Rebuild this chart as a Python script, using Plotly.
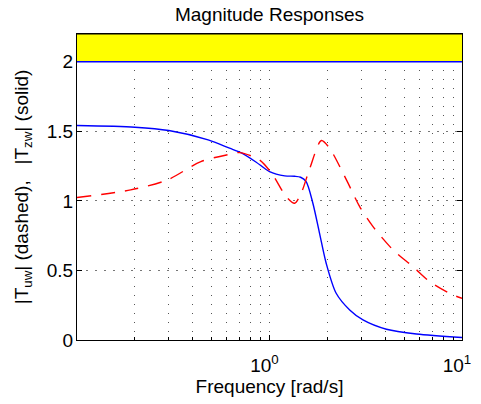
import plotly.graph_objects as go

# Data
freq_zw = [0.1, 0.2, 0.3, 0.48, 0.62, 0.71, 0.85, 1.0, 1.2, 1.35, 1.45, 1.55, 1.68, 1.82, 1.97, 2.22, 2.61, 3.06, 4.05, 5.8, 10.0]
mag_zw = [1.542, 1.53, 1.506, 1.439, 1.379, 1.347, 1.28, 1.211, 1.18, 1.177, 1.17, 1.139, 0.983, 0.767, 0.552, 0.336, 0.216, 0.144, 0.077, 0.043, 0.018]

freq_uw = [0.1, 0.19, 0.295, 0.44, 0.62, 0.70, 0.887, 1.04, 1.22, 1.35, 1.46, 1.62, 1.86, 2.05, 2.51, 2.94, 3.45, 4.39, 5.57, 6.81, 8.83, 10.0]
mag_uw = [1.024, 1.079, 1.151, 1.283, 1.335, 1.347, 1.295, 1.187, 1.031, 0.983, 1.055, 1.235, 1.434, 1.379, 1.151, 0.959, 0.815, 0.647, 0.527, 0.419, 0.328, 0.30]

x_tickvals = [1, 10]
x_ticktext = ["10<sup>0</sup>", "10<sup>1</sup>"]
x_minor = [0.2, 0.3, 0.4, 0.5, 0.6, 0.7, 0.8, 0.9, 2, 3, 4, 5, 6, 7, 8, 9]
y_tickvals = [0, 0.5, 1, 1.5, 2]
y_ticktext = ["0", "0.5", "1", "1.5", "2"]
band_low, band_high = 2.0, 2.2

FONT = "Liberation Sans, Arial, sans-serif"

fig = go.Figure()
fig.add_trace(go.Scatter(x=freq_zw, y=mag_zw, mode="lines",
                         line=dict(color="#0000ff", width=1.4, shape="spline", smoothing=0.8),
                         showlegend=False, hoverinfo="skip"))
fig.add_trace(go.Scatter(x=freq_uw, y=mag_uw, mode="lines",
                         line=dict(color="#ff0000", width=1.4, shape="spline", smoothing=0.8, dash="14px,10px"),
                         showlegend=False, hoverinfo="skip"))

fig.add_shape(type="rect", xref="x domain", yref="y", x0=0, x1=1, y0=band_low, y1=band_high,
              fillcolor="#ffff00", line=dict(width=0), layer="above")
fig.add_shape(type="line", xref="x domain", yref="y", x0=0, x1=1, y0=band_low, y1=band_low,
              line=dict(color="#0000ff", width=1.5), layer="above")
fig.add_shape(type="line", xref="x domain", yref="y domain", x0=0, x1=1, y0=1, y1=1,
              line=dict(color="black", width=1.2), layer="above")

GRIDC = "#555555"
GDASH = "1px,8px"

fig.update_xaxes(type="log", range=[-1, 1], tickvals=x_tickvals, ticktext=x_ticktext,
                 ticks="inside", ticklen=5, tickcolor="black", mirror="allticks",
                 showline=True, linecolor="black", linewidth=1.2, zeroline=False,
                 showgrid=True, gridcolor=GRIDC, griddash=GDASH, gridwidth=1,
                 minor=dict(tickvals=x_minor, ticks="inside", ticklen=3, tickcolor="black",
                            showgrid=True, gridcolor=GRIDC, griddash=GDASH, gridwidth=1),
                 title=dict(text="Frequency [rad/s]", font=dict(size=19, family=FONT, color="black"), standoff=2),
                 tickfont=dict(size=19, family=FONT, color="black"),
                 ticklabelshift=-5, ticklabelstandoff=8, automargin=False)
fig.update_yaxes(range=[0, 2.2], tickvals=y_tickvals, ticktext=y_ticktext,
                 ticks="inside", ticklen=5, tickcolor="black", mirror="allticks",
                 showline=True, linecolor="black", linewidth=1.2, zeroline=False,
                 showgrid=True, gridcolor="#777777", griddash="2px,7px", gridwidth=1,
                 title=dict(text="|T<sub>uw</sub>| (dashed),   |T<sub>zw</sub>| (solid)",
                            font=dict(size=19, family=FONT, color="black"), standoff=13),
                 tickfont=dict(size=19, family=FONT, color="black"),
                 ticklabelstandoff=-1, automargin=False)

fig.update_layout(
    width=481, height=404,
    margin=dict(l=77, r=19, t=34, b=64),
    paper_bgcolor="white", plot_bgcolor="white",
    title=dict(text="Magnitude Responses", x=0.5, xanchor="center", y=1 - 8 / 404, yanchor="top",
               pad=dict(t=0, b=0, l=0, r=0),
               xref="paper", yref="container", font=dict(size=19, family=FONT, color="black")),
    font=dict(family=FONT),
    hovermode=False,
)

fig.write_html("out.html", config={"displayModeBar": False},
               post_script="document.body.style.margin='0px';")
